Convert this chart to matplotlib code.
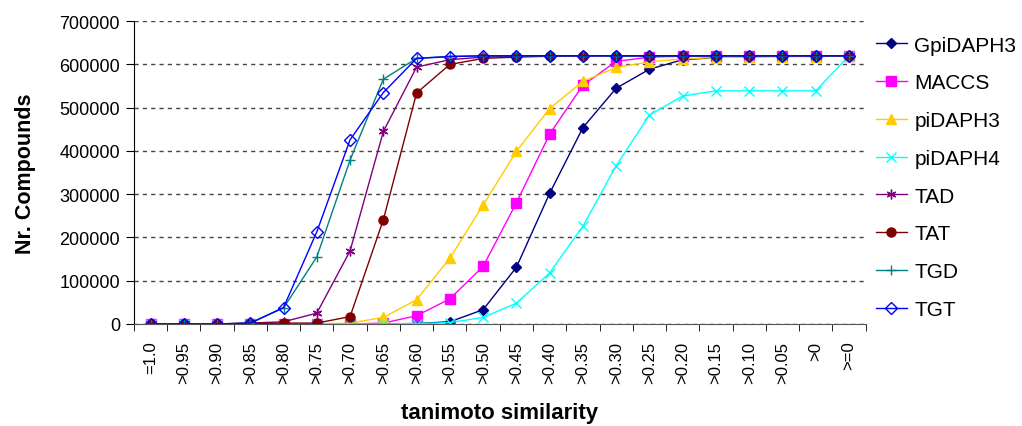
import matplotlib
matplotlib.use("Agg")
from matplotlib import pyplot as plt

plt.rcParams['font.family'] = ['Liberation Sans', 'DejaVu Sans']

categories = ['=1.0', '>0.95', '>0.90', '>0.85', '>0.80', '>0.75', '>0.70', '>0.65',
              '>0.60', '>0.55', '>0.50', '>0.45', '>0.40', '>0.35', '>0.30', '>0.25',
              '>0.20', '>0.15', '>0.10', '>0.05', '>0', '>=0']

gpidaph3 = [0, 0, 0, 0, 0, 0, 0, 0, 1000, 5000, 33000, 131000, 302000, 454000,
            545000, 589000, 611000, 616000, 618000, 619000, 619000, 620000]
maccs = [0, 0, 0, 0, 0, 0, 0, 2000, 19000, 58000, 133000, 280000, 439000, 552000,
         607000, 617000, 619000, 620000, 620000, 620000, 620000, 620000]
pidaph3 = [0, 0, 0, 0, 0, 0, 2000, 15000, 56000, 152000, 275000, 399000, 498000, 561000,
           593000, 606000, 613000, 616000, 617000, 618000, 618000, 620000]
pidaph4 = [0, 0, 0, 0, 0, 0, 0, 0, 1000, 3000, 15000, 48000, 118000, 226000,
           366000, 483000, 527000, 539000, 539000, 539000, 539000, 620000]
tad = [0, 0, 0, 2000, 5000, 25000, 169000, 445000, 594000, 611000, 617000, 619000,
       620000, 620000, 620000, 620000, 620000, 620000, 620000, 620000, 620000, 620000]
tat = [0, 0, 0, 1000, 2000, 2000, 17000, 241000, 534000, 600000, 614000, 617000,
       619000, 620000, 620000, 620000, 620000, 620000, 620000, 620000, 620000, 620000]
tgd = [0, 0, 0, 2000, 37000, 155000, 379000, 566000, 614000, 619000, 620000, 620000,
       620000, 620000, 620000, 620000, 620000, 620000, 620000, 620000, 620000, 620000]
tgt = [0, 0, 0, 2000, 38000, 213000, 426000, 535000, 614000, 618000, 620000, 620000,
       620000, 620000, 620000, 620000, 620000, 620000, 620000, 620000, 620000, 620000]

series = [
    ('GpiDAPH3', gpidaph3, '#000080', 'D', 'full', 5),
    ('MACCS', maccs, '#FF00FF', 's', 'full', 6.5),
    ('piDAPH3', pidaph3, '#FFCC00', '^', 'full', 6.5),
    ('piDAPH4', pidaph4, '#00FFFF', 'x', 'full', 6.5),
    ('TAD', tad, '#800080', (6, 2, 0), 'full', 7),
    ('TAT', tat, '#800000', 'o', 'full', 6.5),
    ('TGD', tgd, '#008080', '+', 'full', 7),
    ('TGT', tgt, '#0000FF', 'D', 'none', 6),
]

fig = plt.figure(figsize=(10.22, 4.27), dpi=100)
ax = fig.add_axes([0.131, 0.239, 0.716, 0.709])

x = list(range(len(categories)))
for name, vals, color, marker, fill, ms in series:
    ax.plot(x, vals, color=color, marker=marker, fillstyle=fill, markersize=ms,
            linewidth=1, markeredgewidth=1, label=name)

ax.set_xlim(-0.5, len(categories) - 0.5)
ax.set_ylim(0, 700000)
ax.set_yticks(range(0, 700001, 100000))
ax.set_yticklabels([str(v) for v in range(0, 700001, 100000)], fontsize=13)
ax.yaxis.grid(True, linestyle=(0, (3, 3)), color='#444444', linewidth=1)
ax.set_axisbelow(True)

ax.set_xticks(x)
ax.set_xticklabels(categories, rotation=90, fontsize=12)
ax.tick_params(axis='x', length=0, pad=12)
ax.set_xticks([i - 0.5 for i in range(len(categories) + 1)], minor=True)
ax.tick_params(axis='x', which='minor', length=5, direction='out')
ax.tick_params(axis='y', length=6, direction='out', pad=4)

for s in ['top', 'right']:
    ax.spines[s].set_visible(False)
ax.spines['left'].set_color('black')
ax.spines['bottom'].set_color('#555555')

ax.set_ylabel('Nr. Compounds', fontsize=15.5, fontweight='bold', labelpad=17)
ax.set_xlabel('tanimoto similarity', fontsize=16, fontweight='bold', labelpad=14)

fig.legend(loc='upper left', bbox_to_anchor=(0.857, 0.914), frameon=False,
           fontsize=15, handlelength=1.5, labelspacing=0.9, handletextpad=0.35,
           borderpad=0, borderaxespad=0)

fig.savefig('out.png', dpi=100)
